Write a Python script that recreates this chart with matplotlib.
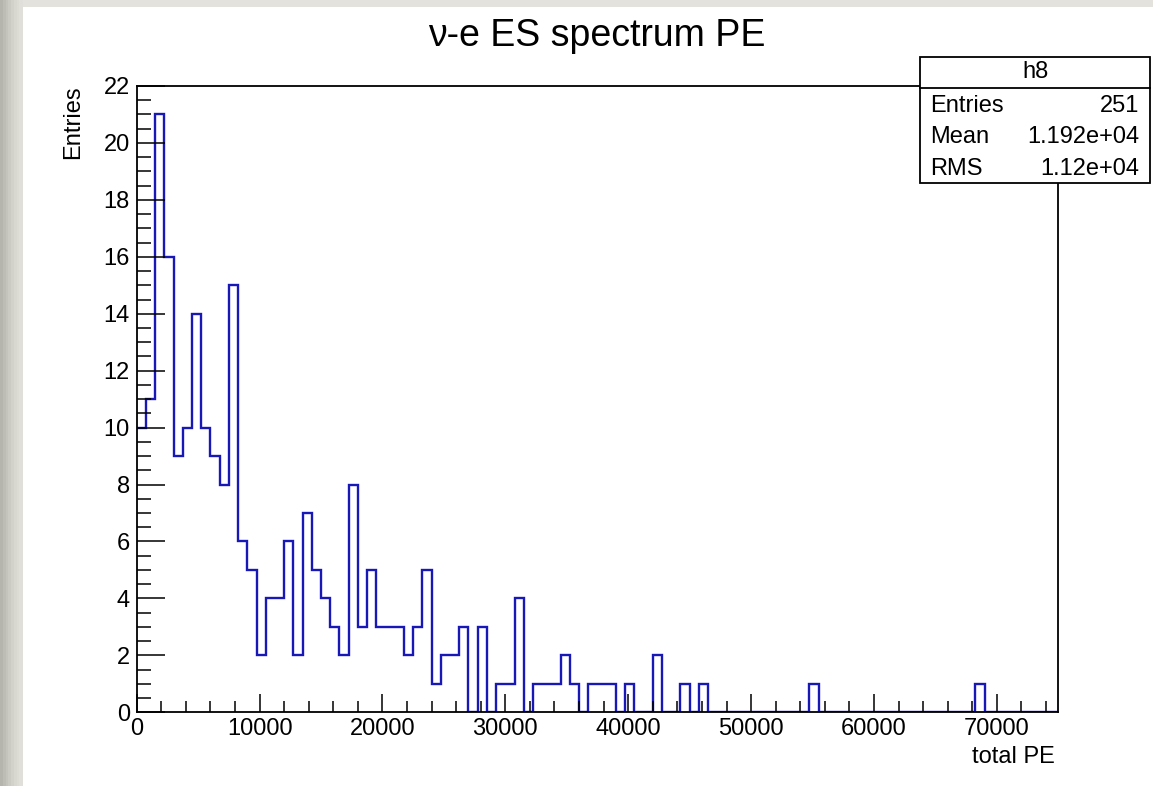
import numpy as np
import matplotlib
matplotlib.use("Agg")
import matplotlib.pyplot as plt
from matplotlib.patches import Rectangle
from matplotlib.lines import Line2D
from matplotlib.ticker import MultipleLocator

plt.rcParams['font.family'] = ['Liberation Sans', 'DejaVu Sans']

# Histogram h8: 100 bins of 750 PE between 0 and 75000
x_min, x_max, n_bins = 0, 75000, 100
counts = [
    10, 11, 21, 16, 9, 10, 14, 10, 9, 8,      # 0 - 7500
    15, 6, 5, 2, 4, 4, 6, 2, 7, 5,            # 7500 - 15000
    4, 3, 2, 8, 3, 5, 3, 3, 3, 2,             # 15000 - 22500
    3, 5, 1, 2, 2, 3, 0, 3, 0, 1,             # 22500 - 30000
    1, 4, 0, 1, 1, 1, 2, 1, 0, 1,             # 30000 - 37500
    1, 1, 0, 1, 0, 0, 2, 0, 0, 1,             # 37500 - 45000
    0, 1, 0, 0, 0, 0, 0, 0, 0, 0,             # 45000 - 52500
    0, 0, 0, 1, 0, 0, 0, 0, 0, 0,             # 52500 - 60000
    0, 0, 0, 0, 0, 0, 0, 0, 0, 0,             # 60000 - 67500
    0, 1, 0, 0, 0, 0, 0, 0, 0, 0,             # 67500 - 75000
]
stat_names = ["Entries", "Mean", "RMS"]
mean_text = "1.192e+04"
rms_text = "1.12e+04"

title = "\u03bd-e ES spectrum PE"
hist_name = "h8"
x_title = "total PE"
y_title = "Entries"

W, H = 1153, 786
fig = plt.figure(figsize=(W / 100, H / 100), dpi=100)
fig.patch.set_facecolor("white")


def fx(px):
    return px / W


def fy(py):
    return 1 - py / H


# window border: light strip on top, shaded strip on the left
fig.add_artist(Rectangle((0, fy(7)), 1, fy(0) - fy(7), transform=fig.transFigure,
                         facecolor="#e3e2dc", edgecolor="none", zorder=0))
shades = ["#b5b5ad", "#bdbdb5", "#c4c4bc", "#cbcbc3", "#d2d2ca", "#d8d8d0", "#dcdcd5", "#e0dfd9"]
step = 22 / len(shades)
for i, c in enumerate(shades):
    fig.add_artist(Rectangle((fx(i * step), 0), fx(step + 0.5), 1, transform=fig.transFigure,
                             facecolor=c, edgecolor="none", zorder=0))

ax = fig.add_axes([fx(136.7), fy(712.3), fx(1058.3) - fx(136.7), fy(86) - fy(712.3)])
ax.set_facecolor("white")

edges = np.linspace(x_min, x_max, n_bins + 1)
ax.stairs(counts, edges, baseline=None, color="#1818b8", linewidth=1.7, zorder=1)

ax.set_xlim(x_min, x_max)
ax.set_ylim(0, 22)

for s in ax.spines.values():
    s.set_linewidth(1.3)
    s.set_color("black")
    s.set_zorder(3)

ax.xaxis.set_major_locator(MultipleLocator(10000))
ax.xaxis.set_minor_locator(MultipleLocator(2000))
ax.yaxis.set_major_locator(MultipleLocator(2))
ax.yaxis.set_minor_locator(MultipleLocator(0.5))

ax.tick_params(axis="both", which="both", direction="in", top=False, right=False,
               width=1.1, color="black", labelsize=17)
ax.tick_params(axis="x", which="major", length=13, pad=4)
ax.tick_params(axis="x", which="minor", length=8)
ax.tick_params(axis="y", which="major", length=20, pad=5)
ax.tick_params(axis="y", which="minor", length=10)

# title and axis titles
fig.text(fx(597), fy(36), title, ha="center", va="center", fontsize=27)
fig.text(fx(1055), fy(757), x_title, ha="right", va="center", fontsize=17)
fig.text(fx(73), fy(85), y_title, ha="center", va="top", rotation=90, fontsize=17)

# statistics box
bx0, bx1, by0, bsep, by1 = 920, 1150, 57, 88, 183
fig.add_artist(Rectangle((fx(bx0), fy(by1)), fx(bx1) - fx(bx0), fy(by0) - fy(by1),
                         transform=fig.transFigure, facecolor="white",
                         edgecolor="black", linewidth=1.3, zorder=5))
fig.add_artist(Line2D([fx(bx0), fx(bx1)], [fy(bsep), fy(bsep)], transform=fig.transFigure,
                      color="black", linewidth=1.3, zorder=6))
fig.text(fx((bx0 + bx1) / 2), fy((by0 + bsep) / 2), hist_name, ha="center", va="center",
         fontsize=17, zorder=7)
stat_values = [f"{int(np.sum(counts))}", mean_text, rms_text]
row_y = [106, 137, 169]
for name, val, yy in zip(stat_names, stat_values, row_y):
    fig.text(fx(930), fy(yy), name, ha="left", va="center", fontsize=17, zorder=7)
    fig.text(fx(1139), fy(yy), val, ha="right", va="center", fontsize=17, zorder=7)

fig.savefig("out.png", dpi=100, facecolor=fig.get_facecolor())
